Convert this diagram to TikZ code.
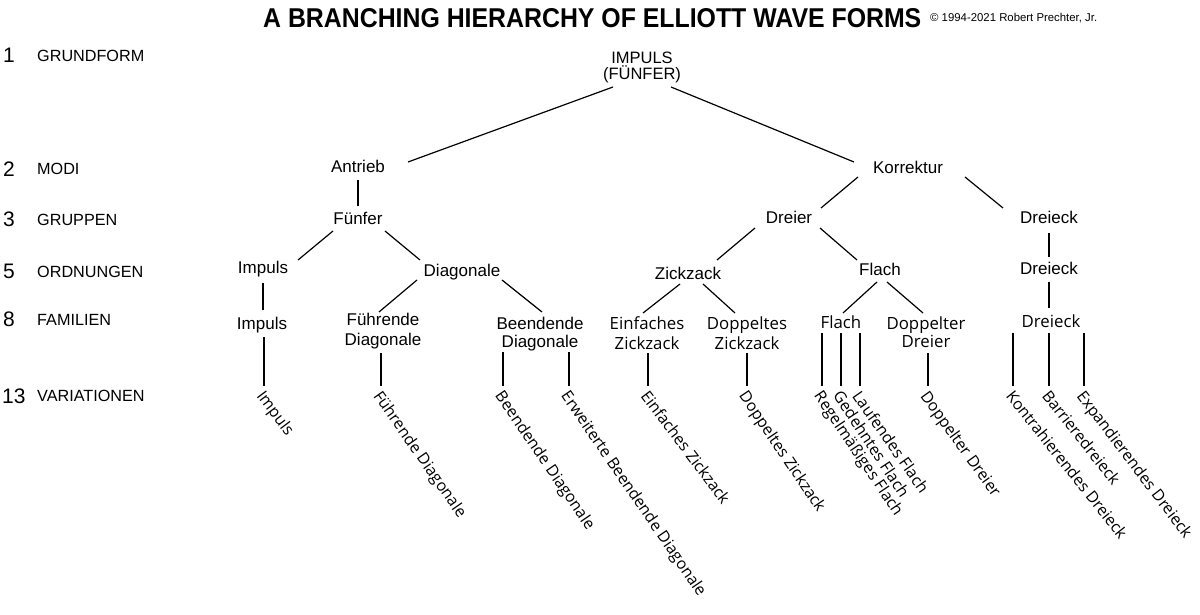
\documentclass[tikz,border=0pt]{standalone}
\usepackage{fontspec}
\usepackage{graphicx}
\setmainfont{Liberation Sans}
\newfontfamily\segf{Open Sans}
\usetikzlibrary{calc}
\tikzset{
  lab/.style={inner sep=0pt, font=\fontsize{17}{19}\selectfont, text height=12.2pt, text depth=0pt},
  labm/.style={inner sep=0pt, font=\fontsize{17}{19}\selectfont, align=center, anchor=north},
  seg/.style={inner sep=0pt, font=\segf\fontsize{16.8}{20}\selectfont, text height=11.8pt, text depth=0pt},
  segm/.style={inner sep=0pt, font=\segf\fontsize{16.8}{20}\selectfont, align=center, anchor=north},
  var/.style={inner sep=1pt, font=\segf\fontsize{15.9}{18}\selectfont, anchor=north west},
  lvlnum/.style={inner sep=0pt, anchor=base west, font=\fontsize{21}{23}\selectfont},
  lvlname/.style={inner sep=0pt, anchor=base west, font=\fontsize{16.2}{18}\selectfont},
  conn/.style={line width=1.2pt, black}
}
\begin{document}
\begin{tikzpicture}[x=1pt,y=-1pt]
\fill[white] (0,0) rectangle (1200,615);
\useasboundingbox (0,0) rectangle (1200,615);

% title
\node[inner sep=0pt, anchor=north west] (title) at (263,8)
  {\resizebox{658pt}{19pt}{\bfseries A BRANCHING HIERARCHY OF ELLIOTT WAVE FORMS}};
\node[inner sep=0pt, anchor=base west] (copy) at (930,22)
  {\resizebox{167pt}{!}{\fontsize{10}{12}\selectfont © 1994-2021 Robert Prechter, Jr.}};

% level legend
\node[lvlnum] (n1) at (3,63) {1};
\node[lvlname] (l1) at (37,62) {GRUNDFORM};
\node[lvlnum] (n2) at (3,176) {2};
\node[lvlname] (l2) at (37,175) {MODI};
\node[lvlnum] (n3) at (3,226) {3};
\node[lvlname] (l3) at (37,225.5) {GRUPPEN};
\node[lvlnum] (n5) at (3,278) {5};
\node[lvlname] (l5) at (37,277.5) {ORDNUNGEN};
\node[lvlnum] (n8) at (3,326) {8};
\node[lvlname] (l8) at (37,325) {FAMILIEN};
\node[lvlnum] (n13) at (2,403) {13};
\node[lvlname] (l13) at (37,401.5) {VARIATIONEN};

% tree nodes
\node[inner sep=0pt, font=\fontsize{16.5}{16}\selectfont, align=center, anchor=north] (root) at (642,51.5) {IMPULS\\(FÜNFER)};
\node[lab] (antrieb) at (358,166) {Antrieb};
\node[lab] (korrektur) at (908,167) {Korrektur};
\node[lab] (fuenfer) at (358,218) {Fünfer};
\node[lab] (dreier) at (789,217) {Dreier};
\node[lab] (dreieckG) at (1049,217) {Dreieck};
\node[lab] (impulsO) at (263,267) {Impuls};
\node[lab] (diagonale) at (462,270) {Diagonale};
\node[lab] (zickzack) at (688,273) {Zickzack};
\node[lab] (flachO) at (880,269) {Flach};
\node[lab] (dreieckO) at (1049,268) {Dreieck};
\node[lab] (impulsF) at (262,323) {Impuls};
\node[labm, font=\fontsize{17}{20}\selectfont] (fuehrende) at (383,313) {Führende\\Diagonale};
\node[labm, font=\fontsize{17}{18}\selectfont] (beendende) at (540,317) {Beendende\\Diagonale};
\node[segm] (einfaches) at (647,316.4) {Einfaches\\Zickzack};
\node[segm] (doppeltes) at (747,316.4) {Doppeltes\\Zickzack};
\node[seg] (flachF) at (841,323) {Flach};
\node[segm, font=\segf\fontsize{16.8}{18}\selectfont] (doppelter) at (926,316.4) {Doppelter\\Dreier};
\node[seg] (dreieckF) at (1051,322) {Dreieck};

% variations
\node[var, rotate=-53] (v1) at (266,387.5) {Impuls};
\node[var, rotate=-55] (v2) at (383,387.5) {Führende Diagonale};
\node[var, rotate=-55.6] (v3) at (505,387.5) {Beendende Diagonale};
\node[var, rotate=-55.6] (v4) at (571,387.5) {Erweiterte Beendende Diagonale};
\node[var, rotate=-53] (v5) at (650,387.5) {Einfaches Zickzack};
\node[var, rotate=-56] (v6) at (749,387.5) {Doppeltes Zickzack};
\node[var, rotate=-56] (v7) at (824,387.5) {Regelmäßiges Flach};
\node[var, rotate=-56.5] (v8) at (843,387.5) {Gedehntes Flach};
\node[var, rotate=-55] (v9) at (862,387.5) {Laufendes Flach};
\node[var, rotate=-54.3] (v10) at (930,387.5) {Doppelter Dreier};
\node[var, rotate=-51.5] (v11) at (1015,387.5) {Kontrahierendes Dreieck};
\node[var, rotate=-51.5] (v12) at (1051,387.5) {Barrieredreieck};
\node[var, rotate=-52.8] (v13) at (1086,387.5) {Expandierendes Dreieck};

% connectors
\draw[conn] ($(root.north)+(-29,35.5)$) -- ($(antrieb.center)+(50,-4)$);
\draw[conn] ($(root.north)+(29,35.5)$) -- ($(korrektur.center)+(-54,-5)$);
\draw[conn] ($(antrieb.center)+(0,14)$) -- ($(fuenfer.center)+(0,-12)$);
\draw[conn] ($(korrektur.center)+(-50,10)$) -- ($(dreier.center)+(32,-9)$);
\draw[conn] ($(korrektur.center)+(57,10)$) -- ($(dreieckG.center)+(-46,-9)$);
\draw[conn] ($(fuenfer.center)+(-25,13)$) -- ($(impulsO.center)+(35,-7)$);
\draw[conn] ($(fuenfer.center)+(27,13)$) -- ($(diagonale.center)+(-42,-10)$);
\draw[conn] ($(dreier.center)+(-34,11)$) -- ($(zickzack.center)+(29,-13)$);
\draw[conn] ($(dreier.center)+(31,11)$) -- ($(flachO.center)+(-23,-9)$);
\draw[conn] ($(dreieckG.center)+(0,16)$) -- ($(dreieckO.center)+(0,-11)$);
\draw[conn] ($(impulsO.center)+(0,16)$) -- ($(impulsF.center)+(1,-13)$);
\draw[conn] ($(diagonale.center)+(-45,10)$) -- ($(fuehrende.north)+(-4,-1)$);
\draw[conn] ($(diagonale.center)+(40,10)$) -- ($(beendende.north)+(2,-5)$);
\draw[conn] ($(zickzack.center)+(-8,11)$) -- ($(einfaches.north)+(-4,-3.4)$);
\draw[conn] ($(zickzack.center)+(15,11)$) -- ($(doppeltes.north)+(-12,-3.4)$);
\draw[conn] ($(flachO.center)+(-3,13)$) -- ($(flachF.center)+(2,-10)$);
\draw[conn] ($(flachO.center)+(7,13)$) -- ($(doppelter.north)+(-3,-3.4)$);
\draw[conn] ($(dreieckO.center)+(0,14)$) -- ($(dreieckF.center)+(-2,-14)$);

\draw[conn] ($(impulsF.center)+(2,14)$) -- ($(v1.north west)+(-2,-1.5)$);
\draw[conn] ($(fuehrende.north)+(-2,40)$) -- ($(v2.north west)+(-2,-1.5)$);
\draw[conn] ($(beendende.north)+(-37,35)$) -- ($(v3.north west)+(-2,-1.5)$);
\draw[conn] ($(beendende.north)+(29,35)$) -- ($(v4.north west)+(-2,-1.5)$);
\draw[conn] ($(einfaches.north)+(1,36.6)$) -- ($(v5.north west)+(-2,-1.5)$);
\draw[conn] ($(doppeltes.north)+(0,36.6)$) -- ($(v6.north west)+(-2,-1.5)$);
\draw[conn] ($(flachF.center)+(-19,10)$) -- ($(v7.north west)+(-2,-1.5)$);
\draw[conn] ($(flachF.center)+(0,10)$) -- ($(v8.north west)+(-2,-1.5)$);
\draw[conn] ($(flachF.center)+(19,10)$) -- ($(v9.north west)+(-2,-1.5)$);
\draw[conn] ($(doppelter.north)+(2,36.6)$) -- ($(v10.north west)+(-2,-1.5)$);
\draw[conn] ($(dreieckF.center)+(-38,11)$) -- ($(v11.north west)+(-2,-1.5)$);
\draw[conn] ($(dreieckF.center)+(-2,11)$) -- ($(v12.north west)+(-2,-1.5)$);
\draw[conn] ($(dreieckF.center)+(33,11)$) -- ($(v13.north west)+(-2,-1.5)$);
\end{tikzpicture}
\end{document}
